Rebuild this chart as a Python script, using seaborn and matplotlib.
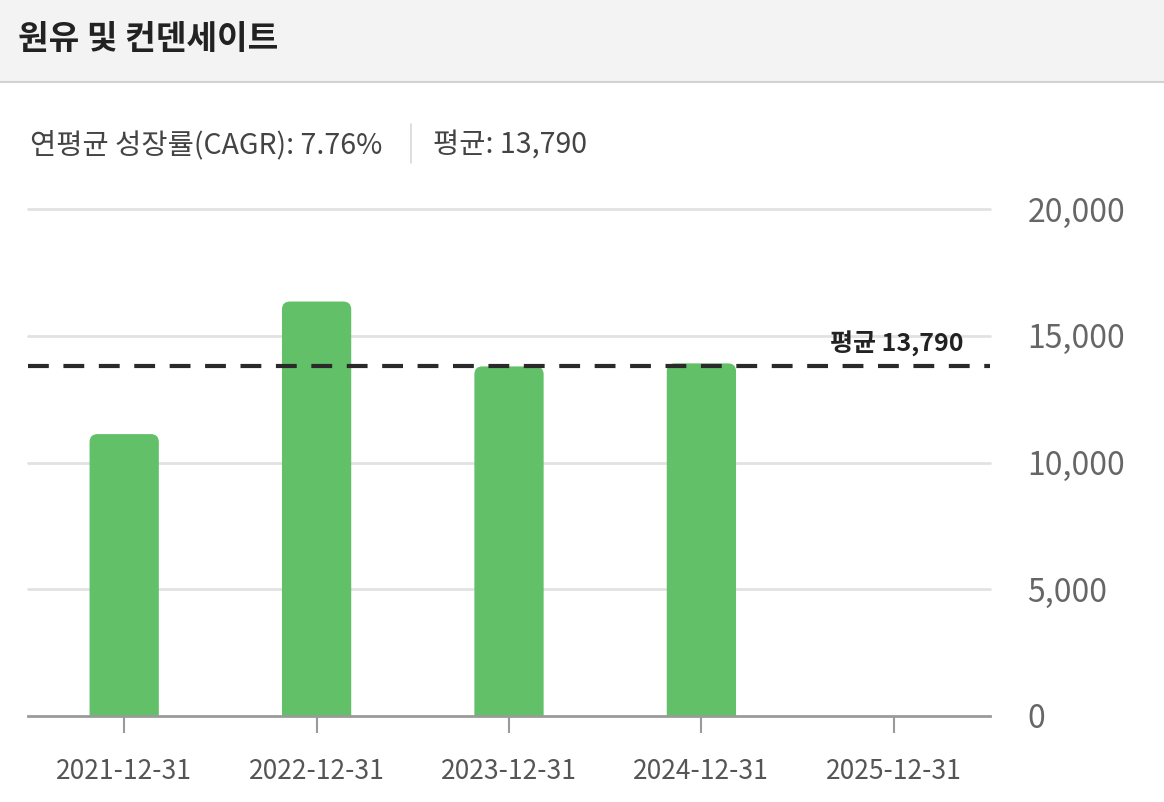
import matplotlib
matplotlib.use("Agg")
import matplotlib.pyplot as plt
import seaborn as sns
import pandas as pd
from matplotlib.patches import FancyBboxPatch, Rectangle
from matplotlib.lines import Line2D

# data
dates = ["2021-12-31", "2022-12-31", "2023-12-31", "2024-12-31", "2025-12-31"]
values = [11120, 16350, 13790, 13910, None]
avg_value = 13790
cagr = 7.76
y_ticks = [0, 5000, 10000, 15000, 20000]

df = pd.DataFrame({"date": dates, "value": values})

sns.set_theme(style="white")
plt.rcParams["font.family"] = ["Noto Sans CJK KR", "DejaVu Sans"]

fig = plt.figure(figsize=(11.64, 8.02), dpi=100)
W, H = 1164, 802

# header band
fig.patches.append(Rectangle((0, 1 - 81 / H), 1, 81 / H, transform=fig.transFigure,
                             facecolor="#f3f3f3", edgecolor="none", zorder=0))
fig.lines.append(Line2D([0, 1], [1 - 81.5 / H, 1 - 81.5 / H], transform=fig.transFigure,
                        color="#d2d2d2", lw=1.5))
fig.text(18 / W, 1 - 40 / H, "원유 및 컨덴세이트", fontsize=24, fontweight="bold",
         color="#222222", va="center", ha="left")

# subtitle
fig.text(30 / W, 1 - 145 / H, f"연평균 성장률(CAGR): {cagr:.2f}%", fontsize=20.5,
         color="#444444", va="center", ha="left")
fig.lines.append(Line2D([411 / W, 411 / W], [1 - 124 / H, 1 - 163 / H],
                        transform=fig.transFigure, color="#d8d8d8", lw=1.2))
fig.text(433 / W, 1 - 145 / H, f"평균: {avg_value:,}", fontsize=20.5,
         color="#444444", va="center", ha="left")

ax = fig.add_axes([28 / W, 1 - 716 / H, (990 - 28) / W, (716 - 209) / H])
sns.barplot(data=df, x="date", y="value", color="#61c068", width=0.36,
            saturation=1, ax=ax, zorder=2)

ax.set_xlim(-0.5, 4.5)
ax.set_ylim(0, 20000)

# rounded tops for bars
px_x = 1 / 192.5
px_y = 20000 / (716 - 209)
r = 8
for p in list(ax.patches):
    x, w, h = p.get_x(), p.get_width(), p.get_height()
    if not h or h != h:
        p.remove()
        continue
    fb = FancyBboxPatch((x, -r * px_y * 2), w, h + r * px_y * 2,
                        boxstyle=f"round,pad=0,rounding_size={r * px_x}",
                        mutation_aspect=px_y / px_x,
                        facecolor="#61c068", edgecolor="none", zorder=2)
    ax.add_patch(fb)
    p.remove()

# grid
for t in y_ticks[1:]:
    ax.axhline(t, color="#e2e2e2", lw=2, zorder=1, clip_on=False)

# average line
ax.axhline(avg_value, color="#2a2a2a", lw=3, ls=(0, (5, 3.5)), zorder=3)
ax.text(4.5 - (990 - 963) * px_x, avg_value + 9 * px_y,
        f"평균 {avg_value:,}", ha="right", va="bottom", fontsize=18,
        fontweight="semibold", color="#222222")

sns.despine(ax=ax, left=True, right=True, top=True)
ax.spines["bottom"].set_color("#9a9a9a")
ax.spines["bottom"].set_linewidth(2)
ax.spines["bottom"].set_zorder(4)

ax.yaxis.tick_right()
ax.set_yticks(y_ticks)
ax.set_yticklabels([f"{t:,}" for t in y_ticks])
ax.tick_params(axis="y", length=0, pad=27, labelsize=23, labelcolor="#666666")
for lab in ax.get_yticklabels():
    lab.set_horizontalalignment("left")

ax.tick_params(axis="x", length=12, width=1.5, color="#9a9a9a", pad=18,
               labelsize=19, labelcolor="#555555", bottom=True)
ax.set_xlabel("")
ax.set_ylabel("")
ax.grid(False)

fig.savefig("out.png", dpi=100)
